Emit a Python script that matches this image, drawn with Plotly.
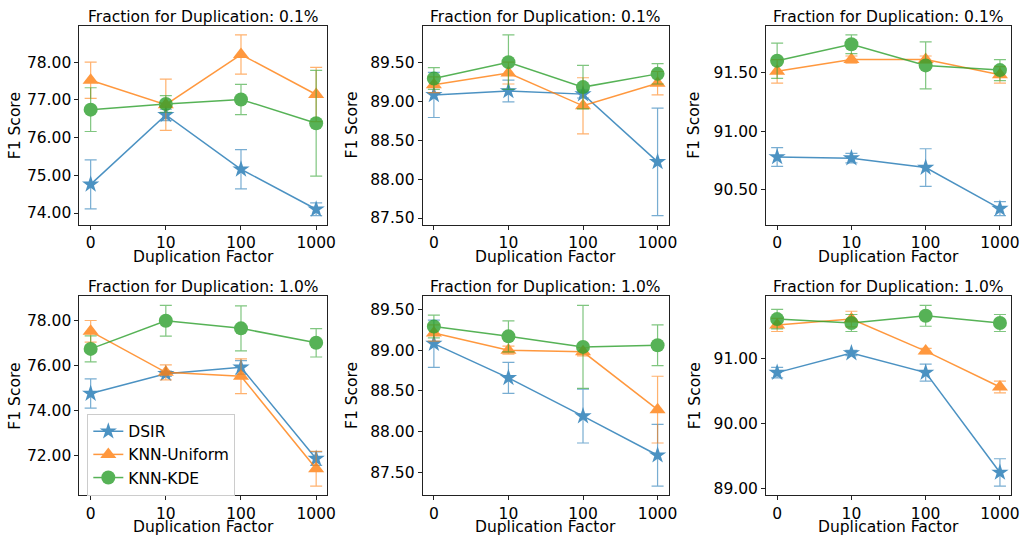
import plotly.graph_objects as go

# ---------------- data ----------------
DUP_FACTORS = ["0", "10", "100", "1000"]
SERIES = ["DSIR", "KNN-Uniform", "KNN-KDE"]
TITLES = ["Fraction for Duplication: 0.1%", "Fraction for Duplication: 1.0%"]
X_LABEL = "Duplication Factor"
Y_LABEL = "F1 Score"

# Row 1: fraction 0.1%
p1_dsir = [74.76, 76.60, 75.16, 74.10];  p1_dsir_err = [0.65, 0.15, 0.52, 0.17]
p1_unif = [77.52, 76.87, 78.20, 77.14];  p1_unif_err = [0.48, 0.68, 0.52, 0.72]
p1_kde  = [76.74, 76.89, 77.01, 76.38];  p1_kde_err  = [0.58, 0.22, 0.40, 1.40]

p2_dsir = [89.08, 89.13, 89.09, 88.22];  p2_dsir_err = [0.29, 0.14, 0.05, 0.69]
p2_unif = [89.21, 89.36, 88.94, 89.23];  p2_unif_err = [0.10, 0.14, 0.36, 0.15]
p2_kde  = [89.29, 89.50, 89.18, 89.35];  p2_kde_err  = [0.14, 0.35, 0.28, 0.13]

p3_dsir = [90.78, 90.77, 90.69, 90.34];  p3_dsir_err = [0.08, 0.04, 0.16, 0.06]
p3_unif = [91.51, 91.61, 91.61, 91.48];  p3_unif_err = [0.10, 0.03, 0.03, 0.07]
p3_kde  = [91.60, 91.74, 91.56, 91.52];  p3_kde_err  = [0.15, 0.08, 0.20, 0.09]

# Row 2: fraction 1.0%
p4_dsir = [74.76, 75.64, 75.92, 71.87];  p4_dsir_err = [0.65, 0.12, 0.30, 0.30]
p4_unif = [77.52, 75.70, 75.53, 71.42];  p4_unif_err = [0.48, 0.33, 0.77, 0.77]
p4_kde  = [76.74, 77.99, 77.65, 77.01];  p4_kde_err  = [0.58, 0.68, 1.00, 0.63]

p5_dsir = [89.08, 88.66, 88.19, 87.71];  p5_dsir_err = [0.29, 0.19, 0.33, 0.38]
p5_unif = [89.21, 89.00, 88.98, 88.27];  p5_unif_err = [0.10, 0.05, 0.05, 0.41]
p5_kde  = [89.29, 89.17, 89.04, 89.06];  p5_kde_err  = [0.14, 0.19, 0.51, 0.25]

p6_dsir = [90.78, 91.08, 90.78, 89.25];  p6_dsir_err = [0.08, 0.04, 0.13, 0.21]
p6_unif = [91.51, 91.60, 91.11, 90.56];  p6_unif_err = [0.10, 0.12, 0.04, 0.09]
p6_kde  = [91.60, 91.54, 91.65, 91.54];  p6_kde_err  = [0.15, 0.13, 0.16, 0.13]

panels = [
    [(p1_dsir, p1_dsir_err), (p1_unif, p1_unif_err), (p1_kde, p1_kde_err)],
    [(p2_dsir, p2_dsir_err), (p2_unif, p2_unif_err), (p2_kde, p2_kde_err)],
    [(p3_dsir, p3_dsir_err), (p3_unif, p3_unif_err), (p3_kde, p3_kde_err)],
    [(p4_dsir, p4_dsir_err), (p4_unif, p4_unif_err), (p4_kde, p4_kde_err)],
    [(p5_dsir, p5_dsir_err), (p5_unif, p5_unif_err), (p5_kde, p5_kde_err)],
    [(p6_dsir, p6_dsir_err), (p6_unif, p6_unif_err), (p6_kde, p6_kde_err)],
]
DTICKS = [1.0, 0.5, 0.5, 2.0, 0.5, 1.0]

# ---------------- style ----------------
W, H = 1029, 537
COLORS = ["#1f77b4", "#ff7f0e", "#2ca02c"]
RGBA = ["rgba(31,119,180,0.75)", "rgba(255,127,14,0.75)", "rgba(44,160,44,0.75)"]
SYMBOLS = ["star", "triangle-up", "circle"]
SIZES = [13, 14, 14]
FONT = "DejaVu Sans"
FS = 15.5

col_px = [(80, 330), (426, 674), (772, 1019)]
row_px = [(26, 226), (298, 498)]
ytitle_x = [15, 355, 700]
xtitle_dy = 32      # px below axis bottom (centre)
title_dy = 9        # px above axis top (centre)

fig = go.Figure()
annotations = []
layout = dict(
    width=W, height=H,
    margin=dict(l=0, r=0, t=0, b=0),
    paper_bgcolor="white", plot_bgcolor="white",
    font=dict(family=FONT, size=FS, color="black"),
    showlegend=True,
    legend=dict(
        x=88 / W, y=1 - 416 / H, xanchor="left", yanchor="top",
        bgcolor="rgba(255,255,255,0.8)", bordercolor="#cccccc", borderwidth=1,
        font=dict(family=FONT, size=FS), tracegroupgap=0, itemwidth=30,
    ),
)


def ann(text, x, y, angle=0):
    annotations.append(dict(
        text=text, xref="paper", yref="paper", x=x / W, y=1 - y / H,
        xanchor="center", yanchor="middle", showarrow=False, textangle=angle,
        font=dict(family=FONT, size=FS, color="black"),
    ))


for i, panel in enumerate(panels):
    r, c = divmod(i, 3)
    ax = "" if i == 0 else str(i + 1)
    xa, ya = "x" + ax, "y" + ax
    lows = [m - e for mean, err in panel for m, e in zip(mean, err)]
    highs = [m + e for mean, err in panel for m, e in zip(mean, err)]
    lo, hi = min(lows), max(highs)
    pad = 0.05 * (hi - lo)
    for k, (mean, err) in enumerate(panel):
        fig.add_trace(go.Scatter(
            x=DUP_FACTORS, y=mean,
            error_y=dict(type="data", array=err, visible=True, color=RGBA[k],
                         thickness=1.2, width=6),
            mode="lines+markers", name=SERIES[k],
            line=dict(color=COLORS[k], width=1.5),
            marker=dict(symbol=SYMBOLS[k], size=SIZES[k], color=COLORS[k],
                        line=dict(width=0)),
            opacity=0.8,
            xaxis=xa, yaxis=ya,
            showlegend=(i == 3),
        ))
    x0, x1 = col_px[c]
    y0, y1 = row_px[r]
    axis_common = dict(
        showline=True, mirror=True, linecolor="#222222", linewidth=1,
        ticks="outside", ticklen=4, tickwidth=1, tickcolor="#222222",
        showgrid=False, zeroline=False,
        tickfont=dict(family=FONT, size=FS, color="black"),
    )
    layout["xaxis" + ax] = dict(
        axis_common, domain=[x0 / W, x1 / W], anchor=ya,
        type="category", range=[-0.15, 3.15],
    )
    layout["yaxis" + ax] = dict(
        axis_common, domain=[1 - y1 / H, 1 - y0 / H], anchor=xa,
        range=[lo - pad, hi + pad], dtick=DTICKS[i], tickformat=".2f",
    )
    ann(TITLES[r], (x0 + x1) / 2, y0 - title_dy)
    ann(X_LABEL, (x0 + x1) / 2, y1 + xtitle_dy)
    ann(Y_LABEL, ytitle_x[c], (y0 + y1) / 2, angle=-90)

layout["annotations"] = annotations
fig.update_layout(**layout)
fig.write_html(
    "out.html",
    config={"displayModeBar": False},
    post_script="document.body.style.margin='0';document.body.style.padding='0';",
)
